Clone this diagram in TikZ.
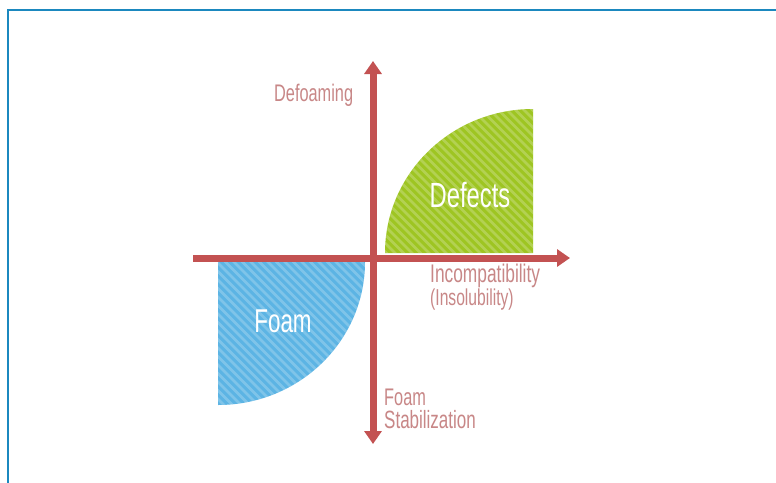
\documentclass[tikz,border=0pt]{standalone}
\usepackage{fontspec}
\newfontfamily\cond[FakeStretch=0.68]{Liberation Sans}
\usetikzlibrary{arrows.meta}
\definecolor{axisred}{RGB}{195,82,82}
\definecolor{lblpink}{RGB}{200,135,135}
\definecolor{foamblue}{RGB}{92,180,228}
\definecolor{defgreen}{RGB}{158,197,34}
\definecolor{framblue}{RGB}{27,136,191}
\tikzset{
  axisline/.style={draw=axisred, line width=7pt, -{Triangle[width=17pt,length=13pt]}},
  axisboth/.style={draw=axisred, line width=7pt, {Triangle[width=17pt,length=13pt]}-{Triangle[width=17pt,length=13pt]}},
  lbl/.style={text=lblpink, font=\cond\fontsize{24}{26}\selectfont, anchor=west, inner sep=0pt, align=left},
  big/.style={text=white, inner sep=0pt},
  hatch/.style={draw=white, draw opacity=0.22, line width=2.5pt}
}
\begin{document}
\begin{tikzpicture}[x=1pt,y=-1pt]
\useasboundingbox (0,0) rectangle (776,482);
\fill[white] (0,0) rectangle (776,482);
% frame
\draw[framblue, line width=2pt] (8,483) -- (8,10) -- (777,10);
% green region
\begin{scope}
\clip (385,253) arc[start angle=180,end angle=270,x radius=148,y radius=144] -- (533,253) -- cycle;
\fill[defgreen] (380,100) rectangle (540,260);
\foreach \k in {-300,-291.5,...,600} {\draw[hatch] (\k,0) -- (\k+500,500);}
\end{scope}
% blue region
\begin{scope}
\clip (218,262) -- (365,262) arc[start angle=0,end angle=90,x radius=147,y radius=143] -- cycle;
\fill[foamblue] (210,255) rectangle (370,410);
\foreach \k in {-300,-291.5,...,600} {\draw[hatch] (\k,0) -- (\k+500,500);}
\end{scope}
% axes
\coordinate (xl) at (193,258);
\coordinate (xr) at (570,258);
\coordinate (yt) at (373,61);
\coordinate (yb) at (373,444);
\draw[axisline] (xl) -- (xr);
\draw[axisboth] (yb) -- (yt);
% labels
\node[big, font=\cond\fontsize{35}{37}\selectfont] (def) at (470,195) {Defects};
\node[big, font=\cond\fontsize{33}{35}\selectfont] (foam) at (283,321) {Foam};
\node[lbl, font=\cond\fontsize{24}{26}\selectfont] (dfm) at (274,95) {Defoaming};
\node[lbl, font=\cond\fontsize{25.5}{27}\selectfont] (inc) at (430,276) {Incompatibility};
\node[lbl, font=\cond\fontsize{23}{25}\selectfont] (ins) at (430,300) {(Insolubility)};
\node[lbl, font=\cond\fontsize{24}{26}\selectfont] (fm) at (384,397) {Foam};
\node[lbl, font=\cond\fontsize{25}{27}\selectfont] (stb) at (384,420) {Stabilization};
\end{tikzpicture}
\end{document}
